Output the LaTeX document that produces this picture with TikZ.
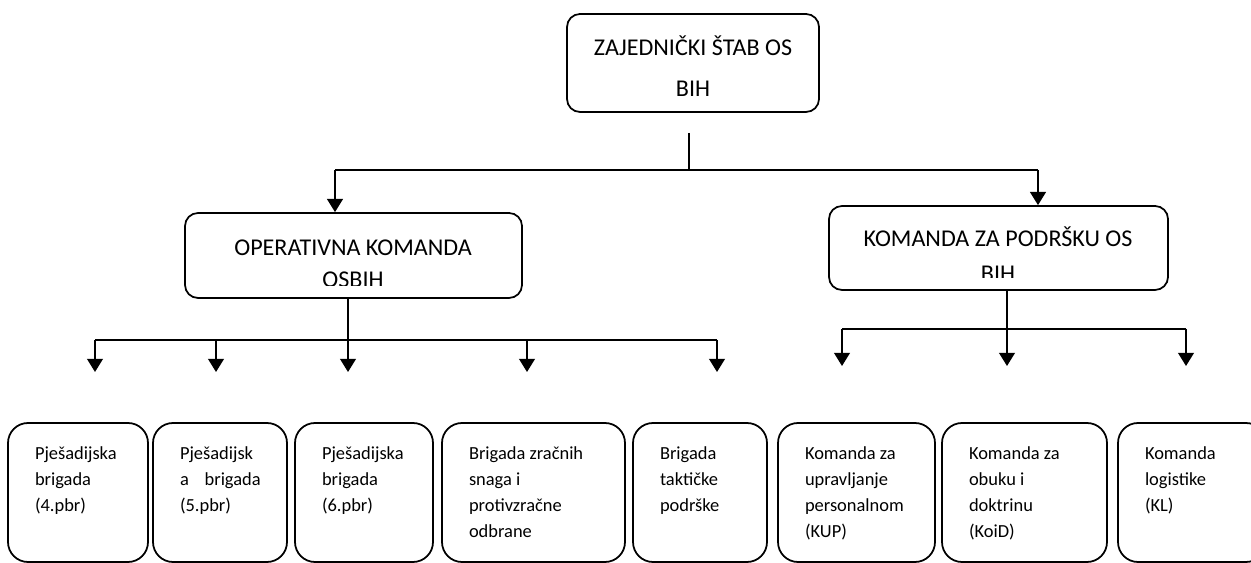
\documentclass[tikz,border=0pt]{standalone}
\usepackage{fontspec}
\setmainfont{Carlito}
\usetikzlibrary{fit,arrows.meta}

\begin{document}
\begin{tikzpicture}[x=0.02cm, y=-0.02cm, line width=1pt,
	head/.style = {draw, rounded corners=0.26cm, inner sep=0},
	unit/.style = {draw, rounded corners=0.4cm, inner sep=0},
	big/.style = {font=\fontsize{13.7}{19}\selectfont, align=center, inner sep=0},
	small/.style = {font=\fontsize{10.5}{14.7}\selectfont, align=left, inner sep=0, anchor=north west},
	arr/.style = {-{Triangle[width=9pt,length=7.5pt]}}]
	\clip (0,0) rectangle (1251,563);
	\node[head, fit={(567,14) (819,112)}] (zs) {};
	\node[big] (zsT) at (693,66) {ZAJEDNIČKI ŠTAB OS\\[4.2pt]BIH};
	\node[head, fit={(185,213) (522,298)}] (opk) {};
	\node[head, fit={(829,206) (1168,290)}] (kp) {};
	\begin{scope}
		\clip ([yshift=0.26cm]opk.south west) rectangle (opk.north east);
		\node[big] (opkT) at (353,264) {OPERATIVNA KOMANDA\\[-1pt]OSBIH};
	\end{scope}
	\begin{scope}
		\clip ([yshift=0.26cm]kp.south west) rectangle (kp.north east);
		\node[big] (kpT) at (998,254) {KOMANDA ZA PODRŠKU OS\\[1pt]BIH};
	\end{scope}

	\node[unit, fit={(8,423) (148,562)}] (b1) {};
	\node[unit, fit={(153,423) (287,562)}] (b2) {};
	\node[unit, fit={(295,423) (433,562)}] (b3) {};
	\node[unit, fit={(442,423) (625,562)}] (b4) {};
	\node[unit, fit={(633,423) (767,562)}] (b5) {};
	\node[unit, fit={(778,423) (935,562)}] (b6) {};
	\node[unit, fit={(942,423) (1107,562)}] (b7) {};
	\node[unit, fit={(1118,423) (1266,562)}] (b8) {};
	\node[small] (b1T) at ([shift={(27,24)}]b1.north west) {Pješadijska\\brigada\\(4.pbr)};
	\node[small] (b2T) at ([shift={(27,24)}]b2.north west) {Pješadijsk\\a\hspace{9pt}brigada\\(5.pbr)};
	\node[small] (b3T) at ([shift={(27,24)}]b3.north west) {Pješadijska\\brigada\\(6.pbr)};
	\node[small] (b4T) at ([shift={(27,24)}]b4.north west) {Brigada zračnih\\snaga i\\protivzračne\\odbrane};
	\node[small] (b5T) at ([shift={(27,24)}]b5.north west) {Brigada\\taktičke\\podrške};
	\node[small] (b6T) at ([shift={(27,24)}]b6.north west) {Komanda za\\upravljanje\\personalnom\\(KUP)};
	\node[small] (b7T) at ([shift={(27,24)}]b7.north west) {Komanda za\\obuku i\\doktrinu\\(KoiD)};
	\node[small] (b8T) at ([shift={(27,24)}]b8.north west) {Komanda\\logistike\\(KL)};

	\coordinate (zsD) at (689,133);
	\coordinate (hub) at (689,170);
	\coordinate (hubL) at (335,170);
	\coordinate (hubR) at (1038,170);
	\draw (zsD) -- (hub);
	\draw (hubL) -- (hubR);
	\draw[arr] (hubL) -- (hubL |- opk.north);
	\draw[arr] (hubR) -- (hubR |- kp.north);

	\coordinate (opkH) at (348,340);
	\coordinate (a1) at (95,372);
	\coordinate (a2) at (216,372);
	\coordinate (a3) at (348,372);
	\coordinate (a4) at (527,372);
	\coordinate (a5) at (717,372);
	\draw (a1 |- opkH) -- (a5 |- opkH);
	\draw[arr] (opk.south -| a3) -- (a3);
	\draw[arr] (a1 |- opkH) -- (a1);
	\draw[arr] (a2 |- opkH) -- (a2);
	\draw[arr] (a4 |- opkH) -- (a4);
	\draw[arr] (a5 |- opkH) -- (a5);

	\coordinate (kpH) at (1007,329);
	\coordinate (c1) at (842,366);
	\coordinate (c2) at (1007,366);
	\coordinate (c3) at (1186,366);
	\draw (c1 |- kpH) -- (c3 |- kpH);
	\draw[arr] (kp.south -| c2) -- (c2);
	\draw[arr] (c1 |- kpH) -- (c1);
	\draw[arr] (c3 |- kpH) -- (c3);
\end{tikzpicture}
\end{document}
